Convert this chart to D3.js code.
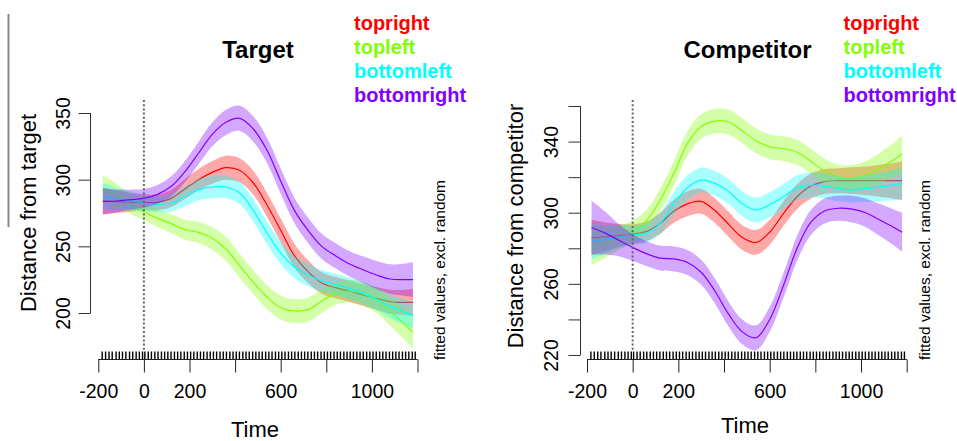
<!DOCTYPE html>
<html>
<head>
<meta charset="utf-8">
<script src="https://cdn.jsdelivr.net/npm/d3@7"></script>
<style>
  html, body { margin: 0; padding: 0; background: #fff; }
  svg { display: block; font-family: "Liberation Sans", Arial, Helvetica, sans-serif; }
</style>
</head>
<body>
<svg id="chart" width="957" height="441"></svg>
<script>
// Time grid (ms) on which the fitted smooths are given
const times = [-180, -120, -60, 0, 60, 120, 180, 240, 300, 360, 420, 480, 540, 600, 660, 720, 780, 840, 900, 960, 1020, 1080, 1140, 1180];

// Conditions, in drawing order, with their colours
const conditions = ["topright", "topleft", "bottomleft", "bottomright"];
const colors = ["#FF0000", "#80FF00", "#00FFFF", "#8000FF"];

// Panel 1: distance from target (fitted values)
const targetTopright    = [284, 283.5, 283, 283, 283, 286, 293, 300, 305.5, 309, 307, 297.5, 281, 262, 243, 231, 222.5, 219, 216.5, 213.5, 211, 208.5, 208, 208];
const targetTopleft     = [292.5, 288, 282, 276, 271, 267, 262.5, 260.5, 256, 248, 235.5, 223, 212, 204, 201.5, 202.5, 209, 214.5, 216.5, 214.5, 209.5, 201, 192, 185.5];
const targetBottomleft  = [287.5, 285.5, 284, 282.5, 281.5, 282.5, 287.5, 292.5, 294.5, 294.5, 290, 277, 260, 245, 234.5, 228.5, 224, 221.5, 218.5, 215, 210.5, 205, 201, 198];
const targetBottomright = [283.7, 284, 285, 286, 289, 295, 306, 320, 334, 343, 346, 338, 322, 299, 277, 262, 250, 243, 237, 232.5, 228.5, 225.5, 225, 225];

// Panel 1: half-widths of the confidence bands
const targetToprightCI    = [10, 8.5, 7, 6, 6, 6.5, 7.5, 8, 8.5, 9, 9, 9, 9, 9, 9, 8.5, 8, 8, 8, 8, 8.5, 9, 9.5, 10];
const targetTopleftCI     = [11, 9, 7.5, 6.5, 6.5, 7, 7.5, 8, 8.5, 9, 9, 9, 9, 9, 9, 9, 9, 8.5, 8.5, 9, 9.5, 10.5, 11.5, 12.5];
const targetBottomleftCI  = [10, 8.5, 7, 6, 6, 6.5, 7.5, 8, 8.5, 8.5, 8.5, 8.5, 8.5, 8.5, 8.5, 8.5, 8, 8, 8, 8, 8.5, 9, 9.5, 10];
const targetBottomrightCI = [10, 8.5, 7.5, 7, 7, 7.5, 8, 8.5, 9, 9.5, 9.5, 9.5, 9.5, 9.5, 9.5, 9.5, 9.5, 9.5, 9.5, 10, 10.5, 11, 12, 13];

// Panel 2: distance from competitor (fitted values)
const compTopright    = [286, 286.5, 287.2, 288, 289.5, 294, 300.8, 305, 306.4, 301.2, 293.5, 286, 283.3, 289, 299.5, 309, 315, 317.5, 318, 318, 318, 318, 318, 318];
const compTopleft     = [281.5, 283.5, 286, 289.5, 295.5, 307, 322, 339, 348.5, 351.5, 351, 346, 340.5, 337, 336, 334, 329, 323.5, 320, 319.3, 321, 325, 329.5, 333];
const compBottomleft  = [283.8, 285, 286.5, 287.5, 288.5, 294, 305, 314, 318.3, 316.5, 312, 305, 301.5, 304.5, 309, 314, 315.5, 315, 313.5, 312.8, 313.5, 314.5, 315.5, 316.5];
const compBottomright = [291.7, 288.5, 284.5, 280.5, 277, 274.5, 274, 272, 266.5, 256, 243, 233, 229.7, 240, 259, 280, 294.5, 301, 302.5, 302, 300, 296, 292, 289];

// Panel 2: half-widths of the confidence bands
const compToprightCI    = [10, 8, 6.5, 5.5, 5.5, 6, 6.5, 7, 7, 7, 7, 7, 7, 7, 7, 7, 7, 7, 7, 7.5, 8, 9, 10, 11];
const compTopleftCI     = [11, 9, 7, 6, 6, 6.5, 7, 7, 7, 7, 7, 7, 7, 7, 7, 7, 7, 7, 7, 7.5, 8, 8.5, 9.5, 10.5];
const compBottomleftCI  = [10, 8, 6.5, 5.5, 5.5, 6, 6.5, 7, 7, 7, 7, 7, 7, 7, 7, 7, 7, 7, 7, 7, 7.5, 8, 8.5, 9];
const compBottomrightCI = [15, 12, 9, 7.5, 7, 7, 7, 7, 7, 7, 7, 7, 7, 7, 7, 7, 7, 7, 7, 7.5, 8, 9, 10, 11];

// Time points present in the data (drawn as a rug)
const rugTimes = [-183, -168, -153, -139, -122, -108, -94, -79, -63, -49, -34, -20, -6, 4, 19, 33, 48, 62, 77, 91, 105, 119, 134, 148, 162, 177, 191, 205, 219, 234, 248, 262, 277, 291, 305, 319, 334, 348, 362, 377, 391, 405, 419, 434, 448, 462, 477, 491, 505, 519, 534, 548, 562, 577, 591, 605, 619, 634, 648, 662, 677, 691, 705, 719, 734, 748, 762, 777, 791, 805, 819, 834, 848, 862, 877, 891, 905, 919, 934, 948, 962, 977, 991, 1005, 1019, 1034, 1048, 1062, 1077, 1091, 1105, 1119, 1134, 1148, 1162, 1177, 1190];

// Axis ticks and the tick labels that are printed
const xTicks = [-200, 0, 200, 400, 600, 800, 1000, 1200];
const xTickLabels = [-200, 0, 200, 600, 1000];
const targetYTicks = [200, 250, 300, 350];
const targetYTickLabels = [200, 250, 300, 350];
const compYTicks = [220, 240, 260, 280, 300, 320, 340, 360];
const compYTickLabels = [220, 260, 300, 340];

const svg = d3.select("#chart");
const FONT_TICK = 19.5;

// Frame line at the far left edge
svg.append("line")
  .attr("x1", 8.5).attr("x2", 8.5).attr("y1", 14).attr("y2", 227)
  .attr("stroke", "#888").attr("stroke-width", 2);

function drawPanel(cfg) {
  const x = d3.scaleLinear().domain([-200, 1200]).range(cfg.xRange);
  const y = d3.scaleLinear().domain(cfg.yDomain).range(cfg.yRange);
  const g = svg.append("g");

  // Smooths with their confidence bands, each band then its line
  cfg.series.forEach((vals, i) => {
    const ci = cfg.ci[i];
    const pts = times.map((t, k) => ({ t, v: vals[k], c: ci[k] }));
    const area = d3.area()
      .curve(d3.curveCatmullRom.alpha(0.5))
      .x(d => x(d.t)).y0(d => y(d.v - d.c)).y1(d => y(d.v + d.c));
    const line = d3.line()
      .curve(d3.curveCatmullRom.alpha(0.5))
      .x(d => x(d.t)).y(d => y(d.v));
    g.append("path").attr("d", area(pts))
      .attr("fill", colors[i]).attr("fill-opacity", 0.34).attr("stroke", "none");
    g.append("path").attr("d", line(pts))
      .attr("fill", "none").attr("stroke", colors[i]).attr("stroke-width", 1.2);
  });

  // Onset marker at time 0
  g.append("line")
    .attr("x1", x(0)).attr("x2", x(0)).attr("y1", 100).attr("y2", 350)
    .attr("stroke", "#666").attr("stroke-width", 2).attr("stroke-dasharray", "2,2.2");

  // Rug of observed time points
  g.selectAll("line.rug").data(rugTimes).enter().append("line")
    .attr("class", "rug")
    .attr("x1", d => x(d)).attr("x2", d => x(d))
    .attr("y1", 351.5).attr("y2", 359.5)
    .attr("stroke", "#000").attr("stroke-width", 1.4);

  // x axis
  const xAxis = d3.axisBottom(x).tickValues(xTicks).tickSize(13)
    .tickFormat(d => xTickLabels.includes(d) ? d3.format("d")(d) : "");
  const gx = g.append("g").attr("transform", "translate(0,359.5)").call(xAxis);
  gx.select(".domain").attr("stroke", "#222").attr("d", `M${x(-200)},0H${x(1200)}`);
  gx.selectAll(".tick line").attr("stroke", "#222");
  gx.selectAll(".tick text").attr("font-size", FONT_TICK).attr("fill", "#000")
    .attr("dy", 0).attr("y", 38).attr("font-family", "Liberation Sans, Arial, sans-serif")
    .text(d => xTickLabels.includes(d) ? String(d) : "");

  // y axis
  const yAxis = d3.axisLeft(y).tickValues(cfg.yTicks).tickSize(12)
    .tickFormat(d => cfg.yTickLabels.includes(d) ? String(d) : "");
  const gy = g.append("g").attr("transform", `translate(${cfg.yAxisX},0)`).call(yAxis);
  gy.select(".domain").attr("stroke", "#333")
    .attr("d", `M0,${y(cfg.yDomain[0])}V${y(cfg.yDomain[1])}`);
  gy.selectAll(".tick line").attr("stroke", "#333");
  gy.selectAll(".tick text")
    .attr("font-size", FONT_TICK).attr("fill", "#000")
    .attr("font-family", "Liberation Sans, Arial, sans-serif")
    .attr("x", 0).attr("dy", 0).attr("text-anchor", "middle")
    .attr("transform", `translate(${cfg.yLabelX - cfg.yAxisX},0) rotate(-90)`)
    .attr("y", 7);

  // Axis titles
  g.append("text").attr("x", cfg.timeX).attr("y", cfg.timeY)
    .attr("text-anchor", "middle").attr("font-size", 22).text("Time");
  g.append("text")
    .attr("transform", `translate(${cfg.yTitleX},${cfg.yTitleY}) rotate(-90)`)
    .attr("text-anchor", "middle").attr("font-size", 22).attr("dy", 8)
    .text(cfg.yTitle);

  // Side note
  g.append("text")
    .attr("transform", `translate(${cfg.noteX},270) rotate(-90)`)
    .attr("text-anchor", "middle").attr("font-size", 15.5).attr("dy", 5)
    .text("fitted values, excl. random");

  // Panel title
  g.append("text").attr("x", cfg.titleX).attr("y", 58)
    .attr("text-anchor", "middle").attr("font-size", 24).attr("font-weight", "bold")
    .text(cfg.title);

  // Legend
  conditions.forEach((name, i) => {
    g.append("text").attr("x", cfg.legendX).attr("y", 29.5 + i * 24.3)
      .attr("font-size", 20).attr("font-weight", "bold").attr("fill", colors[i])
      .text(name);
  });
}

drawPanel({
  xRange: [98.3, 417.5],
  yDomain: [200, 350], yRange: [313, 113],
  yTicks: targetYTicks, yTickLabels: targetYTickLabels,
  yAxisX: 90.5, yLabelX: 62.5,
  series: [targetTopright, targetTopleft, targetBottomleft, targetBottomright],
  ci: [targetToprightCI, targetTopleftCI, targetBottomleftCI, targetBottomrightCI],
  timeX: 255, timeY: 437,
  yTitle: "Distance from target", yTitleX: 28, yTitleY: 213,
  noteX: 440, title: "Target", titleX: 258, legendX: 354
});

drawPanel({
  xRange: [587, 906.7],
  yDomain: [220, 360], yRange: [355, 106],
  yTicks: compYTicks, yTickLabels: compYTickLabels,
  yAxisX: 580.5, yLabelX: 550.5,
  series: [compTopright, compTopleft, compBottomleft, compBottomright],
  ci: [compToprightCI, compTopleftCI, compBottomleftCI, compBottomrightCI],
  timeX: 745, timeY: 433,
  yTitle: "Distance from competitor", yTitleX: 515, yTitleY: 226,
  noteX: 925, title: "Competitor", titleX: 747.5, legendX: 843.5
});
</script>
</body>
</html>
